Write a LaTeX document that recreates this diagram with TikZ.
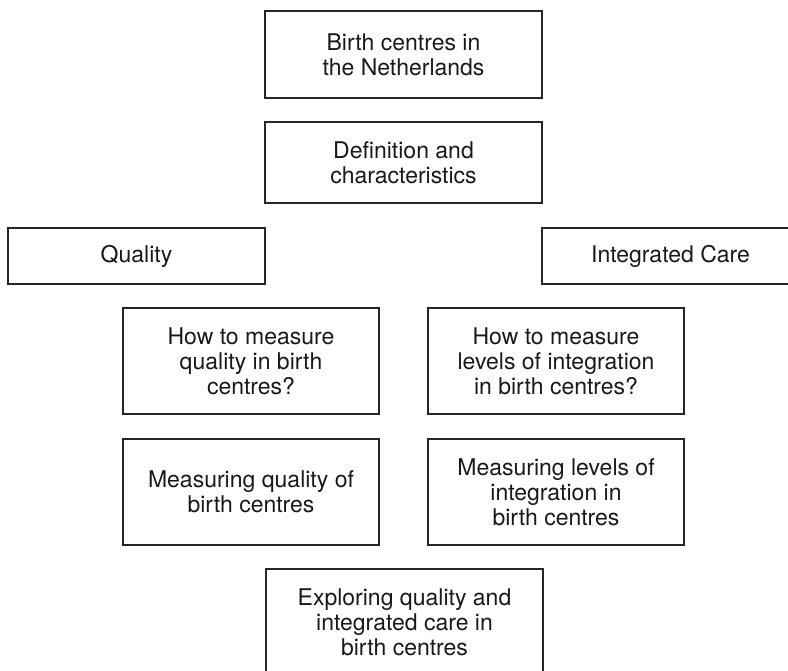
\documentclass[tikz,border=0pt]{standalone}
\usepackage{fontspec}
\setmainfont{TeX Gyre Heros}
\usepackage{tikz}

\begin{document}
\begin{tikzpicture}[
            x=1pt, y=-1pt,
            stage/.style={rectangle, draw=black!85, line width=1.6pt, inner sep=0pt,
                align=center, text=black!90, font=\fontsize{23}{25}\selectfont},
            wide_stage/.style={stage, minimum width=277pt},
            side_stage/.style={stage, minimum width=257pt, minimum height=56pt},
            sub_stage/.style={stage, minimum width=256pt, minimum height=106pt}
        ]

        % Page frame (boxes at the right and bottom run off the page)
        \path[use as bounding box, clip] (0,0) rectangle (788,671);

        % Top of the outline
        \node[wide_stage, minimum height=87pt] (birth) at (403.5, 54.5) {Birth centres in\\the Netherlands};
        \node[wide_stage, minimum height=81pt] (defin) at (403.5, 162.5) {Definition and\\characteristics};

        % The two themes
        \node[side_stage] (quality) at (136.5, 256) {Quality};
        \node[side_stage] (integr) at (670.5, 256) {Integrated Care};

        % Questions and measurements
        \node[sub_stage] (howqual) at (251, 361) {How to measure\\quality in birth\\centres?};
        \node[sub_stage] (howintg) at (556, 361) {How to measure\\levels of integration\\in birth centres?};
        \node[sub_stage] (measqual) at (251, 492) {Measuring quality of\\birth centres};
        \node[sub_stage] (measintg) at (556, 492) {Measuring levels of\\integration in\\birth centres};

        % Closing part
        \node[wide_stage, minimum height=106pt] (explore) at (404.5, 622) {Exploring quality and\\integrated care in\\birth centres};

    \end{tikzpicture}
\end{document}
